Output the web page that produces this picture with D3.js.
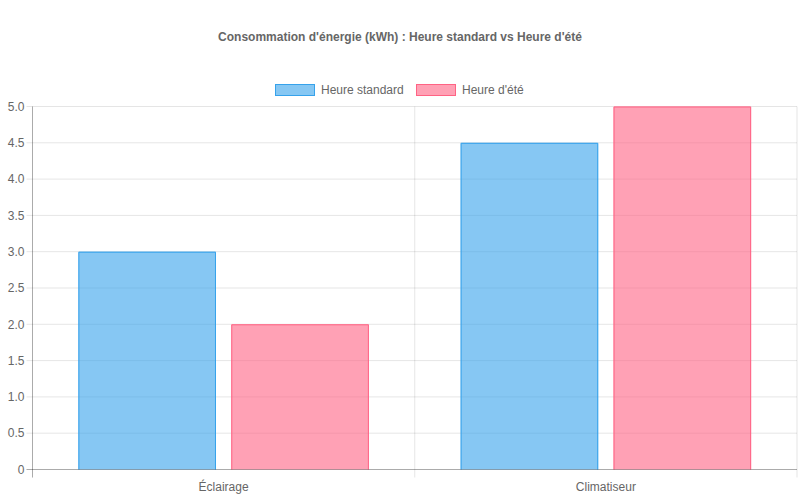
<!DOCTYPE html>
<html><head><meta charset="utf-8">
<script src="https://cdn.jsdelivr.net/npm/d3@7/dist/d3.min.js"></script>
<style>body{margin:0;background:#fff}svg{display:block}text{font-family:"Liberation Sans",Arial,Helvetica,sans-serif}</style>
</head><body><svg id="c" width="800" height="500"></svg>
<script>
const categories = ["Éclairage", "Climatiseur"];
const seriesNames = ["Heure standard", "Heure d'été"];
const standardValues = [3, 4.5];
const summerValues = [2, 5];
const yTickValues = [0, 0.5, 1, 1.5, 2, 2.5, 3, 3.5, 4, 4.5, 5];
const yTickLabels = ["0", "0.5", "1.0", "1.5", "2.0", "2.5", "3.0", "3.5", "4.0", "4.5", "5.0"];
const titleText = "Consommation d'énergie (kWh) : Heure standard vs Heure d'été";

const fills = ["rgba(54,162,235,0.6)", "rgba(255,99,132,0.6)"];
const strokes = ["rgb(54,162,235)", "rgb(255,99,132)"];
const series = [standardValues, summerValues];

const svg = d3.select("#c");
const L = 32.5, R = 797, T = 106.5, B = 469.5;
const x = d3.scaleBand().domain(categories).range([L, R]).paddingInner(0).paddingOuter(0);
const x1 = d3.scaleBand().domain(seriesNames).range([0, x.bandwidth()]).paddingInner(0.1*0.8/ (0.8) ).paddingOuter(0);
const y = d3.scaleLinear().domain([0, 5]).range([B, T]);

// grid horizontal
svg.append("g").selectAll("line").data(yTickValues).join("line")
  .attr("x1", L - 6).attr("x2", R).attr("y1", d => y(d)).attr("y2", d => y(d))
  .attr("stroke", "rgba(0,0,0,0.1)");
// grid vertical
const vx = [L, L + x.bandwidth(), R];
svg.append("g").selectAll("line").data(vx).join("line")
  .attr("x1", d => d).attr("x2", d => d).attr("y1", T).attr("y2", B + 8)
  .attr("stroke", "rgba(0,0,0,0.1)");

// bars
const catW = x.bandwidth() * 0.8;
const slot = catW / seriesNames.length;
const barW = slot * 0.9;
categories.forEach((c, ci) => {
  series.forEach((vals, si) => {
    const x0 = x(c) + (x.bandwidth() - catW) / 2 + si * slot + (slot - barW) / 2;
    svg.append("rect")
      .attr("x", x0).attr("y", y(vals[ci]))
      .attr("width", barW).attr("height", y(0) - y(vals[ci]))
      .attr("fill", fills[si]);
    svg.append("path")
      .attr("d", `M${x0+0.5},${y(0)} V${y(vals[ci])+0.5} H${x0+barW-0.5} V${y(0)}`)
      .attr("fill", "none").attr("stroke", strokes[si]).attr("stroke-width", 1);
  });
});

// axes lines
svg.append("line").attr("x1", L).attr("x2", L).attr("y1", T).attr("y2", B + 8).attr("stroke", "rgba(0,0,0,0.25)");
svg.append("line").attr("x1", L - 6).attr("x2", R).attr("y1", B).attr("y2", B).attr("stroke", "rgba(0,0,0,0.25)");

// y labels
svg.append("g").selectAll("text").data(yTickValues).join("text")
  .attr("x", L - 8).attr("y", d => y(d)).attr("dy", "0.35em")
  .attr("text-anchor", "end").attr("font-size", 12).attr("fill", "#666")
  .text((d, i) => yTickLabels[i]);
// x labels
svg.append("g").selectAll("text").data(categories).join("text")
  .attr("x", d => x(d) + x.bandwidth() / 2).attr("y", 487).attr("dy", "0.35em")
  .attr("text-anchor", "middle").attr("font-size", 12).attr("fill", "#666")
  .text(d => d);

// title
svg.append("text").attr("x", 400).attr("y", 37).attr("dy", "0.35em")
  .attr("text-anchor", "middle").attr("font-size", 12).attr("font-weight", "bold").attr("fill", "#666")
  .text(titleText);

// legend
const legX = [275, 416];
seriesNames.forEach((n, i) => {
  svg.append("rect").attr("x", legX[i] + 0.5).attr("y", 84.5).attr("width", 39).attr("height", 11)
    .attr("fill", fills[i]).attr("stroke", strokes[i]);
  svg.append("text").attr("x", legX[i] + 46).attr("y", 90).attr("dy", "0.35em")
    .attr("font-size", 12).attr("fill", "#666").text(n);
});
</script></body></html>
